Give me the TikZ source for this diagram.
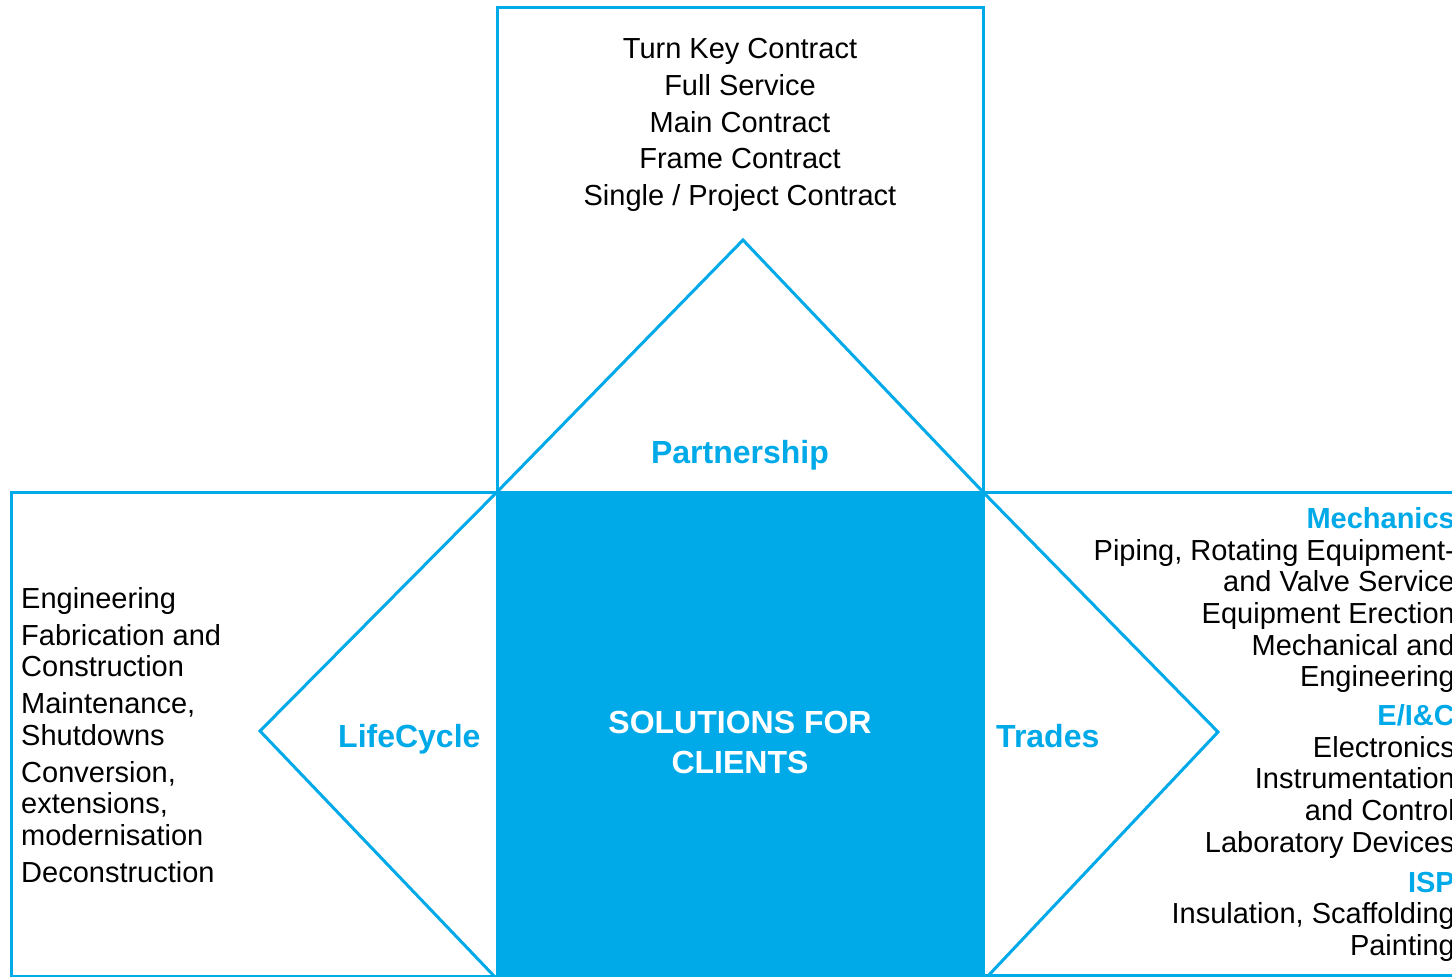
\documentclass[tikz,border=0pt]{standalone}
\usepackage{fontspec}
\setmainfont{Liberation Sans}
\definecolor{brand}{RGB}{0,169,231}
\begin{document}
\begin{tikzpicture}[x=1pt,y=-1pt,
  outline/.style={draw=brand,line width=3pt,line join=miter},
  body/.style={font=\fontsize{29}{31}\selectfont,inner sep=0pt,text=black},
  head/.style={font=\bfseries\fontsize{29}{31}\selectfont,inner sep=0pt,text=brand},
  facet/.style={font=\bfseries\fontsize{32}{39}\selectfont,inner sep=0pt,text=brand}]
\useasboundingbox (0,0) rectangle (1452,977);
\clip (0,0) rectangle (1452,977);
\fill[white] (0,0) rectangle (1452,977);
% vertices
\coordinate (TL) at (497,492);
\coordinate (TR) at (983,492);
\coordinate (topA) at (743,240);
\coordinate (leftA) at (260,731);
\coordinate (rightA) at (1218,732);
\coordinate (LB) at (495,977);
\coordinate (RB) at (987,977);
% centre square
\fill[brand] (TL) rectangle (983,979);
% boxes
\draw[outline] (497,7) rectangle (TR);
\draw[outline] (11,492) rectangle (497,976);
\draw[outline] (TR) rectangle (1480,975);
% triangles
\draw[outline] (TL) -- (topA) -- (TR);
\draw[outline] (TL) -- (leftA) -- (LB);
\draw[outline] (TR) -- (rightA) -- (RB);
% top texts
\foreach \y/\t [count=\i] in {58/{Turn Key Contract},95/{Full Service},132/{Main Contract},168/{Frame Contract},205/{Single / Project Contract}}
  \node[body,anchor=base] (top\i) at (740,\y) {\t};
\node[facet,anchor=base] (partner) at (740,463) {Partnership};
\node[facet,anchor=base west] (life) at (338,747) {LifeCycle};
\node[facet,anchor=base west] (trades) at (996,747) {Trades};
\node[facet,text=white,anchor=base] (sol1) at (740,733.5) {SOLUTIONS FOR};
\node[facet,text=white,anchor=base] (sol2) at (740,773) {CLIENTS};
% left texts
\foreach \y/\t [count=\i] in {608/{Engineering},645/{Fabrication and},676/{Construction},713/{Maintenance,},745/{Shutdowns},782/{Conversion,},813/{extensions,},845/{modernisation},882/{Deconstruction}}
  \node[body,anchor=base west] (left\i) at (21,\y) {\t};
% right texts
\node[head,anchor=base east] (hmech) at (1455,528) {Mechanics};
\node[head,anchor=base east] (heic) at (1455,725) {E/I\&C};
\node[head,anchor=base east] (hisp) at (1455,892) {ISP};
\foreach \y/\t [count=\i] in {560/{Piping, Rotating Equipment-},591/{and Valve Service},623/{Equipment Erection},655/{Mechanical and},686/{Engineering},757/{Electronics},788/{Instrumentation},820/{and Control},852/{Laboratory Devices},923/{Insulation, Scaffolding},955/{Painting}}
  \node[body,anchor=base east] (right\i) at (1455,\y) {\t};
\end{tikzpicture}
\end{document}
